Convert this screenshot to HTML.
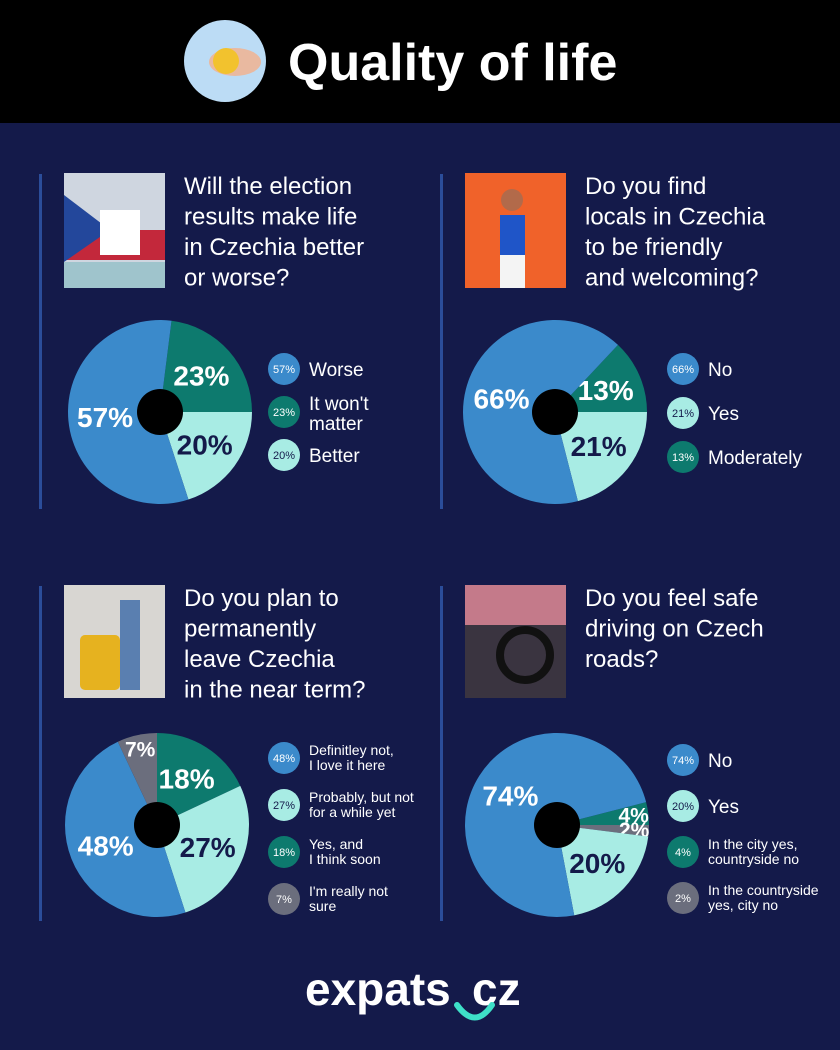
<!DOCTYPE html>
<html><head><meta charset="utf-8"><style>
body{margin:0;background:#141a4a}
svg{display:block;font-family:"Liberation Sans",sans-serif}
</style></head><body>
<svg id="s" width="840" height="1050" viewBox="0 0 840 1050">
<rect width="840" height="1050" fill="#141a4a"/>
<rect width="840" height="123" fill="#000"/>
<g>
<circle cx="225" cy="61" r="41" fill="#bcdcf5"/>
<ellipse cx="235" cy="62" rx="26" ry="14" fill="#e9b9a0"/>
<circle cx="226" cy="61" r="13" fill="#f2c22e"/>
</g>
<text x="288" y="80" font-size="52" font-weight="bold" fill="#fff">Quality of life</text>

<g>
<rect x="39" y="174" width="3" height="335" fill="#2b4d9a"/>
<rect x="440" y="174" width="3" height="335" fill="#2b4d9a"/>
<rect x="39" y="586" width="3" height="335" fill="#2b4d9a"/>
<rect x="440" y="586" width="3" height="335" fill="#2b4d9a"/>
</g>
<g>
<rect x="64" y="173" width="101" height="115" fill="#cfd6e0"/>
<rect x="64" y="230" width="101" height="30" fill="#c3283b"/>
<polygon points="64,195 110,230 64,262" fill="#23479b"/>
<rect x="64" y="262" width="101" height="26" fill="#9fc4cc"/>
<rect x="100" y="210" width="40" height="45" fill="#fff"/>
<rect x="465" y="173" width="101" height="115" fill="#f0622a"/>
<rect x="500" y="215" width="25" height="40" fill="#1f55c8"/>
<rect x="500" y="255" width="25" height="33" fill="#f4f4f4"/>
<circle cx="512" cy="200" r="11" fill="#b26a4a"/>
<rect x="64" y="585" width="101" height="113" fill="#d8d6d2"/>
<rect x="80" y="635" width="40" height="55" rx="5" fill="#e6b21f"/>
<rect x="120" y="600" width="20" height="90" fill="#5a7fb0"/>
<rect x="465" y="585" width="101" height="113" fill="#3a3440"/>
<rect x="465" y="585" width="101" height="40" fill="#c47a8a"/>
<circle cx="525" cy="655" r="25" fill="none" stroke="#111" stroke-width="8"/>
</g>
<g font-size="24" fill="#fff">
<text x="184" y="194"><tspan x="184">Will the election</tspan><tspan x="184" dy="30.5">results make life</tspan><tspan x="184" dy="30.5">in Czechia better</tspan><tspan x="184" dy="30.5">or worse?</tspan></text>
<text x="585" y="194"><tspan x="585">Do you find</tspan><tspan x="585" dy="30.5">locals in Czechia</tspan><tspan x="585" dy="30.5">to be friendly</tspan><tspan x="585" dy="30.5">and welcoming?</tspan></text>
<text x="184" y="606"><tspan x="184">Do you plan to</tspan><tspan x="184" dy="30.5">permanently</tspan><tspan x="184" dy="30.5">leave Czechia</tspan><tspan x="184" dy="30.5">in the near term?</tspan></text>
<text x="585" y="606"><tspan x="585">Do you feel safe</tspan><tspan x="585" dy="30.5">driving on Czech</tspan><tspan x="585" dy="30.5">roads?</tspan></text>
</g>
<g id="charts"></g>
<g>
<text x="305" y="1005" font-size="46" font-weight="bold" fill="#fff">expats</text>
<text x="472" y="1005" font-size="46" font-weight="bold" fill="#fff">cz</text>
<path d="M457 1005 Q475 1030 492 1005" fill="none" stroke="#3ee0c8" stroke-width="6" stroke-linecap="round"/>
</g>
</svg>
<script>
const C={blue:'#3b8acb',teal:'#0d7a6e',light:'#a8ece4',gray:'#6b6e7d'};
// chart 1
const c1Values=[23,20,57];
const c1Colors=['teal','light','blue'];
const c1Legend=[['57%','Worse','blue'],['23%','It won\'t|matter','teal'],['20%','Better','light']];
// chart 2
const c2Values=[13,21,66];
const c2Colors=['teal','light','blue'];
const c2Legend=[['66%','No','blue'],['21%','Yes','light'],['13%','Moderately','teal']];
// chart 3
const c3Values=[18,27,48,7];
const c3Colors=['teal','light','blue','gray'];
const c3Legend=[['48%','Definitley not,|I love it here','blue'],['27%','Probably, but not|for a while yet','light'],['18%','Yes, and|I think soon','teal'],['7%','I\'m really not|sure','gray']];
// chart 4
const c4Values=[4,2,20,74];
const c4Colors=['teal','gray','light','blue'];
const c4Legend=[['74%','No','blue'],['20%','Yes','light'],['4%','In the city yes,|countryside no','teal'],['2%','In the countryside|yes, city no','gray']];

const NS='http://www.w3.org/2000/svg';
const root=document.getElementById('charts');
function mk(t,a,p){const e=document.createElementNS(NS,t);for(const k in a)e.setAttribute(k,a[k]);p.appendChild(e);return e;}
function pt(cx,cy,r,deg){const a=(deg-90)*Math.PI/180;return [cx+r*Math.cos(a),cy+r*Math.sin(a)];}
function pie(name,cx,cy,r,vals,cols,startPct,lx,ly,leg,legGap,small){
  const g=mk('g',{},root);
  
  
  const tot=vals.reduce((a,b)=>a+b,0);
  let a0=startPct/100*360;
  vals.forEach((v,i)=>{
    const sw=v/tot*360,a1=a0+sw;
    const p0=pt(cx,cy,r,a0),p1=pt(cx,cy,r,a1);
    const s=mk('path',{d:`M${cx} ${cy}L${p0[0]} ${p0[1]}A${r} ${r} 0 ${sw>180?1:0} 1 ${p1[0]} ${p1[1]}Z`,fill:C[cols[i]]},g);
    
    
    const mid=a0+sw/2,lr=v<10?r*0.84:r*0.6;
    const lp=pt(cx,cy,lr,mid);
    const t=mk('text',{x:lp[0],y:lp[1]+(v<10?7:10),'font-size':v<10?21:28,'font-weight':'bold','text-anchor':'middle',fill:cols[i]=='light'?'#141a4a':'#fff'},g);
    t.textContent=v+'%';
    
    
    a0=a1;
  });
  const h=mk('circle',{cx:cx,cy:cy,r:23,fill:'#000'},g);
  
  
  leg.forEach((L,i)=>{
    const y=ly+i*legGap;
    const e=mk('g',{},g);
    
    
    mk('circle',{cx:lx,cy:y,r:16,fill:C[L[2]]},e);
    const p=mk('text',{x:lx,y:y+4,'font-size':11,'text-anchor':'middle',fill:L[2]=='light'?'#141a4a':'#fff'},e);
    p.textContent=L[0];
    const lines=L[1].split('|');
    const sm=small&&lines.length>1;
    const fs=sm?14:19;
    lines.forEach((ln,j)=>{
      const tt=mk('text',{x:lx+25,y:y+(lines.length==1?7:(j==0?-3:fs-2)+(sm?0:1)),'font-size':fs,fill:'#fff'},e);
      tt.textContent=ln;
    });
  });
}
pie('pie-election',160,412,92,c1Values,c1Colors,2,284,369,c1Legend,43,false);
pie('pie-locals',555,412,92,c2Values,c2Colors,12,683,369,c2Legend,44,false);
pie('pie-leave',157,825,92,c3Values,c3Colors,0,284,758,c3Legend,47,true);
pie('pie-driving',557,825,92,c4Values,c4Colors,21,683,760,c4Legend,46,true);
</script>
</body></html>
